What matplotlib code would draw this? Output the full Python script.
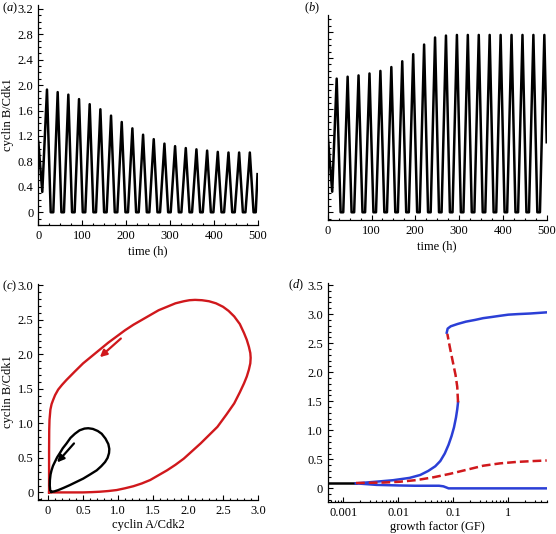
import numpy as np
import matplotlib.pyplot as plt
from matplotlib.ticker import MultipleLocator, FixedLocator, LogLocator, NullFormatter, FuncFormatter

plt.rcParams['font.family'] = 'Liberation Serif'
plt.rcParams['mathtext.fontset'] = 'custom'
plt.rcParams['mathtext.rm'] = 'Liberation Serif'
plt.rcParams['mathtext.it'] = 'Liberation Serif:italic'
plt.rcParams['font.size'] = 9

RED = '#d0181c'
BLUE = '#2b3fd6'

# (a) cyclin B/Cdk1 time course, decaying amplitude
a_start_t = [0.0, 9.1]
a_start_v = [1.11, 0.32]
a_peak_t = [19.8, 44.2, 68.5, 92.9, 117.2, 141.6, 165.9, 190.3, 214.6, 239.0,
            263.3, 287.7, 312.0, 336.4, 360.7, 385.1, 409.4, 433.8, 458.1, 482.5]
a_peak_v = [1.93, 1.89, 1.85, 1.78, 1.70, 1.62, 1.52, 1.42, 1.32, 1.22,
            1.15, 1.08, 1.04, 1.01, 0.99, 0.97, 0.95, 0.94, 0.94, 0.94]
a_fall_t = [28.3, 52.7, 77.0, 101.4, 125.7, 150.1, 174.4, 198.8, 223.1, 247.5,
            271.8, 296.2, 320.5, 344.9, 369.2, 393.6, 417.9, 442.3, 466.6, 491.0]
a_rise_t = [34.2, 58.5, 82.9, 107.2, 131.6, 155.9, 180.3, 204.6, 229.0, 253.3,
            277.7, 302.0, 326.4, 350.7, 375.1, 399.4, 423.8, 448.1, 472.5, 496.0]
a_end = (500.0, 0.60)

# (b) cyclin B/Cdk1 time course, growing amplitude
b_start_t = [0.0, 10.3]
b_start_v = [1.20, 0.32]
b_peak_t = [20.5, 45.5, 70.4, 95.4, 120.3, 145.3, 170.2, 195.2, 220.1, 245.1,
            270.0, 295.0, 319.9, 344.9, 369.8, 394.8, 419.7, 444.7, 469.6, 494.6]
b_peak_v = [2.08, 2.11, 2.13, 2.16, 2.20, 2.26, 2.35, 2.46, 2.61, 2.72,
            2.75, 2.76, 2.76, 2.76, 2.76, 2.76, 2.76, 2.76, 2.76, 2.76]
b_fall_t = [29.5, 54.5, 79.4, 104.4, 129.3, 154.3, 179.2, 204.2, 229.1, 254.1,
            279.0, 304.0, 328.9, 353.9, 378.8, 403.8, 428.7, 453.7, 478.6]
b_rise_t = [35.5, 60.4, 85.4, 110.3, 135.3, 160.2, 185.2, 210.1, 235.1, 260.0,
            285.0, 309.9, 334.9, 359.8, 384.8, 409.7, 434.7, 459.6, 484.6]
b_end = (500.0, 1.09)

# (c) limit cycles in the cyclin A/Cdk2 - cyclin B/Cdk1 plane
red_x = [0.014, 0.014, 0.016, 0.02, 0.033, 0.05, 0.072, 0.10, 0.144, 0.2, 0.263, 0.38,
         0.50, 0.62, 0.74, 0.86, 0.98, 1.1, 1.22, 1.34, 1.46, 1.58, 1.70, 1.82, 1.94,
         2.02, 2.1, 2.2, 2.3, 2.40, 2.5, 2.58, 2.66, 2.74, 2.80, 2.84, 2.87, 2.89,
         2.895, 2.89, 2.87, 2.84, 2.80, 2.74, 2.66, 2.55, 2.42, 2.30, 2.18, 2.06, 1.94,
         1.82, 1.70, 1.58, 1.46, 1.34, 1.22, 1.1, 0.98, 0.86, 0.74, 0.62, 0.50, 0.014]
red_y = [0.0, 0.6, 0.9, 1.05, 1.2, 1.28, 1.34, 1.41, 1.49, 1.56, 1.63, 1.75,
         1.87, 1.97, 2.07, 2.17, 2.26, 2.35, 2.43, 2.50, 2.57, 2.64, 2.69, 2.74, 2.77,
         2.785, 2.79, 2.785, 2.77, 2.74, 2.69, 2.63, 2.55, 2.44, 2.31, 2.21, 2.11, 2.02,
         1.95, 1.87, 1.78, 1.68, 1.58, 1.45, 1.29, 1.13, 0.95, 0.83, 0.71, 0.60, 0.49,
         0.40, 0.32, 0.25, 0.18, 0.13, 0.09, 0.06, 0.034, 0.02, 0.01, 0.004, 0.0, 0.0]
blk_x = [0.049, 0.030, 0.024, 0.026, 0.035, 0.049, 0.07, 0.096, 0.13, 0.168, 0.21,
         0.264, 0.32, 0.383, 0.45, 0.52, 0.574, 0.64, 0.71, 0.766, 0.82, 0.861, 0.875,
         0.871, 0.85, 0.814, 0.76, 0.695, 0.60, 0.502, 0.40, 0.311, 0.22, 0.144, 0.09,
         0.049]
blk_y = [0.009, 0.03, 0.10, 0.18, 0.26, 0.32, 0.385, 0.44, 0.51, 0.57, 0.64,
         0.71, 0.79, 0.85, 0.90, 0.925, 0.93, 0.92, 0.89, 0.85, 0.78, 0.70, 0.63,
         0.57, 0.50, 0.44, 0.38, 0.32, 0.26, 0.20, 0.15, 0.106, 0.065, 0.033, 0.015,
         0.009]
red_arrow = [(1.04, 2.23), (0.74, 1.96)]
blk_arrow = [(0.37, 0.71), (0.13, 0.435)]

# (d) bifurcation diagram vs growth factor
d_black_x = [0.0005, 0.0017]
d_black_y = [0.086, 0.086]
d_rise_x = [0.0017, 0.004, 0.008, 0.016, 0.025, 0.035, 0.047, 0.058, 0.07, 0.082,
            0.093, 0.103, 0.112, 0.118, 0.122]
d_rise_y = [0.086, 0.115, 0.14, 0.18, 0.23, 0.30, 0.38, 0.47, 0.60, 0.75,
            0.90, 1.05, 1.22, 1.36, 1.48]
d_unst_hi_x = [0.122, 0.118, 0.11, 0.098, 0.087, 0.078]
d_unst_hi_y = [1.48, 1.75, 1.95, 2.18, 2.42, 2.66]
d_top_x = [0.076, 0.079, 0.09, 0.12, 0.17, 0.25, 0.35, 0.5, 0.7, 1.0, 1.5, 2.5, 5.0]
d_top_y = [2.68, 2.75, 2.79, 2.83, 2.87, 2.90, 2.93, 2.95, 2.97, 2.99, 3.0, 3.01, 3.03]
d_low_x = [0.0017, 0.004, 0.01, 0.02, 0.04, 0.055, 0.066, 0.075, 0.082, 0.1, 0.5, 5.0]
d_low_y = [0.086, 0.06, 0.05, 0.045, 0.045, 0.045, 0.035, 0.015, 0.0, 0.0, 0.0, 0.0]
d_unst_lo_x = [0.0017, 0.0054, 0.0107, 0.0216, 0.0433, 0.087, 0.175, 0.351, 0.707,
               1.42, 2.85, 5.0]
d_unst_lo_y = [0.092, 0.10, 0.114, 0.143, 0.19, 0.25, 0.32, 0.39, 0.43, 0.455, 0.47, 0.48]


def trace(start_t, start_v, peak_t, peak_v, fall_t, rise_t, end):
    t = list(start_t)
    v = list(start_v)
    for i in range(len(peak_t)):
        t.append(peak_t[i]); v.append(peak_v[i])
        if i < len(fall_t):
            t.append(fall_t[i]); v.append(0.0)
        if i < len(rise_t):
            t.append(rise_t[i]); v.append(0.0)
    t.append(end[0]); v.append(end[1])
    return t, v


def num(x, pos):
    return '0' if abs(x) < 1e-9 else f'{x:.1f}'


def style(ax):
    for s in ['top', 'right']:
        ax.spines[s].set_visible(False)
    for s in ['left', 'bottom']:
        ax.spines[s].set_linewidth(0.9)
    ax.tick_params(which='both', direction='in', width=0.8, labelsize=9)
    ax.tick_params(which='major', length=3.5, pad=3.5)
    ax.tick_params(which='minor', length=1.8)


W, H = 556, 534
fig = plt.figure(figsize=(W / 100, H / 100), dpi=100)


def box(l, r, t, b):
    return [l / W, 1 - b / H, (r - l) / W, (b - t) / H]


def tag(x, y, letter):
    fig.text(x / W, 1 - y / H, r'($\it{%s}$)' % letter, fontsize=9, va='center')


# panel a
ax = fig.add_axes(box(38.3, 257.5, 5, 225))
t, v = trace(a_start_t, a_start_v, a_peak_t, a_peak_v, a_fall_t, a_rise_t, a_end)
ax.plot(t, v, color='black', lw=1.8, solid_joinstyle='round')
ax.set_xlim(0, 500)
ax.set_ylim(-0.2, 3.26)
ax.xaxis.set_major_locator(MultipleLocator(100))
ax.xaxis.set_minor_locator(MultipleLocator(25))
ax.yaxis.set_major_locator(FixedLocator([0, 0.4, 0.8, 1.2, 1.6, 2.0, 2.4, 2.8, 3.2]))
ax.yaxis.set_minor_locator(MultipleLocator(0.1))
ax.yaxis.set_major_formatter(FuncFormatter(num))
ax.set_xlabel('time (h)', labelpad=2.5)
ax.set_ylabel('cyclin B/Cdk1', labelpad=3)
style(ax)
tag(2, 8, 'a')

# panel b
ax = fig.add_axes(box(327.7, 546.7, 15, 220))
t, v = trace(b_start_t, b_start_v, b_peak_t, b_peak_v, b_fall_t, b_rise_t, b_end)
ax.plot(t, v, color='black', lw=1.8, solid_joinstyle='round')
ax.set_xlim(0, 500)
ax.set_ylim(-0.12, 3.07)
ax.xaxis.set_major_locator(MultipleLocator(100))
ax.xaxis.set_minor_locator(MultipleLocator(25))
ax.yaxis.set_major_locator(MultipleLocator(0.4))
ax.yaxis.set_minor_locator(MultipleLocator(0.1))
ax.yaxis.set_major_formatter(NullFormatter())
ax.set_xlabel('time (h)', labelpad=2.5)
style(ax)
tag(304, 8, 'b')

# panel c
ax = fig.add_axes(box(38.3, 258, 284, 500))
ax.plot(red_x, red_y, color=RED, lw=1.7, solid_joinstyle='round')
ax.plot(blk_x, blk_y, color='black', lw=1.7, solid_joinstyle='round')
for (p0, p1), c in [(red_arrow, RED), (blk_arrow, 'black')]:
    ax.annotate('', xy=p1, xytext=p0,
                arrowprops=dict(arrowstyle='-|>', color=c, lw=1.6,
                                mutation_scale=10, shrinkA=0, shrinkB=0))
ax.set_xlim(-0.14, 3.0)
ax.set_ylim(-0.11, 3.02)
ax.xaxis.set_major_locator(MultipleLocator(0.5))
ax.xaxis.set_minor_locator(MultipleLocator(0.1))
ax.yaxis.set_major_locator(MultipleLocator(0.5))
ax.yaxis.set_minor_locator(MultipleLocator(0.1))
ax.xaxis.set_major_formatter(FuncFormatter(num))
ax.yaxis.set_major_formatter(FuncFormatter(num))
ax.set_xlabel('cyclin A/Cdk2', labelpad=1.5)
ax.set_ylabel('cyclin B/Cdk1', labelpad=3)
style(ax)
tag(2, 286, 'c')

# panel d
ax = fig.add_axes(box(327.7, 546.7, 283.3, 502.3))
ax.set_xscale('log')
ax.plot(d_black_x, d_black_y, color='black', lw=1.8)
ax.plot(d_rise_x, d_rise_y, color=BLUE, lw=1.8)
ax.plot(d_top_x, d_top_y, color=BLUE, lw=1.8)
ax.plot(d_low_x, d_low_y, color=BLUE, lw=1.8)
ax.plot(d_unst_hi_x, d_unst_hi_y, color=RED, lw=1.8, dashes=(3.5, 1.6))
ax.plot(d_unst_lo_x, d_unst_lo_y, color=RED, lw=1.8, dashes=(3.5, 1.6))
ax.set_xlim(0.00052, 5.0)
ax.set_ylim(-0.24, 3.53)
ax.xaxis.set_major_locator(FixedLocator([0.001, 0.01, 0.1, 1]))
ax.xaxis.set_major_formatter(FuncFormatter(lambda x, p: {0.001: '0.001', 0.01: '0.01',
                                                         0.1: '0.1', 1: '1'}.get(x, '')))
ax.xaxis.set_minor_locator(LogLocator(base=10, subs=np.arange(2, 10)))
ax.xaxis.set_minor_formatter(NullFormatter())
ax.yaxis.set_major_locator(MultipleLocator(0.5))
ax.yaxis.set_minor_locator(MultipleLocator(0.1))
ax.yaxis.set_major_formatter(FuncFormatter(num))
ax.set_xlabel('growth factor (GF)', labelpad=1.5)
style(ax)
tag(288, 285, 'd')

fig.savefig('out.png', dpi=100)
